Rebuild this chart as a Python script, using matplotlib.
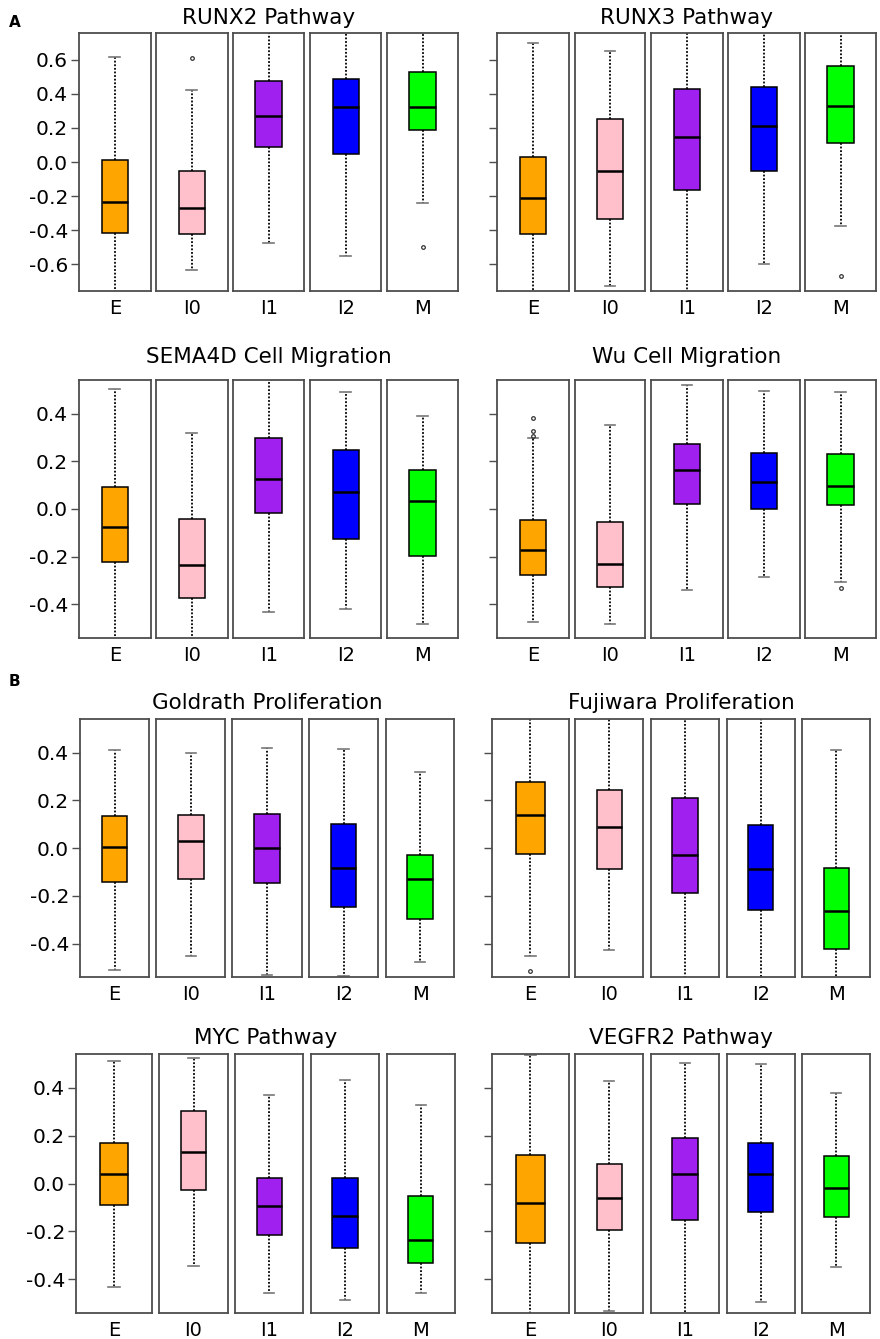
import matplotlib
matplotlib.use("Agg")
import matplotlib.pyplot as plt

plt.rcParams["font.family"] = "DejaVu Sans"

groups = ["E", "I0", "I1", "I2", "M"]
box_colors = ["#FFA500", "#FFC0CB", "#A020F0", "#0000FF", "#00FF00"]

# (lower whisker, Q1, median, Q3, upper whisker) per group
runx2 = [(-0.80, -0.418, -0.236, 0.012, 0.617),
         (-0.631, -0.424, -0.272, -0.053, 0.424),
         (-0.475, 0.088, 0.270, 0.473, 0.80),
         (-0.551, 0.047, 0.324, 0.485, 0.80),
         (-0.240, 0.190, 0.324, 0.528, 0.80)]
runx2_out = [[], [0.608], [], [], [-0.500]]

runx3 = [(-0.80, -0.420, -0.213, 0.029, 0.698),
         (-0.725, -0.332, -0.055, 0.250, 0.651),
         (-0.80, -0.164, 0.145, 0.426, 0.80),
         (-0.596, -0.055, 0.211, 0.440, 0.80),
         (-0.373, 0.113, 0.330, 0.565, 0.80)]
runx3_out = [[], [], [], [], [-0.668]]

sema4d = [(-0.58, -0.222, -0.075, 0.093, 0.502),
          (-0.58, -0.374, -0.234, -0.043, 0.320),
          (-0.434, -0.017, 0.127, 0.296, 0.58),
          (-0.421, -0.124, 0.071, 0.247, 0.493),
          (-0.481, -0.197, 0.032, 0.162, 0.389)]
sema4d_out = [[], [], [], [], []]

wu = [(-0.474, -0.275, -0.174, -0.045, 0.300),
      (-0.481, -0.327, -0.229, -0.053, 0.353),
      (-0.338, 0.022, 0.162, 0.272, 0.519),
      (-0.285, 0.001, 0.113, 0.233, 0.494),
      (-0.306, 0.017, 0.095, 0.229, 0.491)]
wu_out = [[0.381, 0.326, 0.306], [], [], [], [-0.331]]

goldrath = [(-0.510, -0.141, 0.003, 0.133, 0.410),
            (-0.451, -0.128, 0.029, 0.137, 0.399),
            (-0.533, -0.144, 0.001, 0.145, 0.420),
            (-0.536, -0.247, -0.084, 0.103, 0.415),
            (-0.476, -0.295, -0.130, -0.028, 0.318)]
goldrath_out = [[], [], [], [], []]

fujiwara = [(-0.450, -0.024, 0.137, 0.279, 0.58),
            (-0.426, -0.087, 0.088, 0.244, 0.58),
            (-0.58, -0.188, -0.028, 0.211, 0.58),
            (-0.58, -0.258, -0.087, 0.098, 0.58),
            (-0.58, -0.423, -0.262, -0.085, 0.413)]
fujiwara_out = [[-0.514], [], [], [], []]

myc = [(-0.434, -0.089, 0.038, 0.170, 0.512),
       (-0.346, -0.027, 0.131, 0.304, 0.524),
       (-0.458, -0.217, -0.094, 0.024, 0.370),
       (-0.489, -0.272, -0.134, 0.021, 0.433),
       (-0.458, -0.334, -0.236, -0.052, 0.330)]
myc_out = [[], [], [], [], []]

vegfr2 = [(-0.58, -0.251, -0.082, 0.120, 0.536),
          (-0.533, -0.193, -0.061, 0.082, 0.429),
          (-0.58, -0.152, 0.040, 0.191, 0.504),
          (-0.498, -0.120, 0.039, 0.169, 0.501),
          (-0.348, -0.140, -0.020, 0.116, 0.378)]
vegfr2_out = [[], [], [], [], []]

# layout in pixels
W, H = 880, 1339
row_y = [(33, 291), (380.3, 637.7), (719.3, 977), (1054.3, 1312.7)]
row_ylim = [0.756, 0.54, 0.54, 0.541]
row_ticks = [[-0.6, -0.4, -0.2, 0.0, 0.2, 0.4, 0.6],
             [-0.4, -0.2, 0.0, 0.2, 0.4],
             [-0.4, -0.2, 0.0, 0.2, 0.4],
             [-0.4, -0.2, 0.0, 0.2, 0.4]]
title_base = [24, 363, 709, 1044]

top_left = [(79, 150.5), (156, 227.5), (233, 304.3), (310.3, 381.3), (387, 458)]
top_right = [(497, 569), (574.7, 645.3), (651.3, 722.7), (728.3, 799.7), (805, 876.3)]
b3_left = [(80, 149), (156.3, 225.3), (232.3, 302), (309, 378.3), (385.7, 454.3)]
b4_left = [(76, 152.3), (159.3, 227.7), (235, 303.3), (310.7, 379.3), (386.7, 455)]
bot_right = [(492, 568.7), (575, 643.3), (650.7, 719.3), (726.7, 795), (802.3, 870.3)]

panels = [
    ("RUNX2 Pathway", runx2, runx2_out, 0, top_left, True),
    ("RUNX3 Pathway", runx3, runx3_out, 0, top_right, False),
    ("SEMA4D Cell Migration", sema4d, sema4d_out, 1, top_left, True),
    ("Wu Cell Migration", wu, wu_out, 1, top_right, False),
    ("Goldrath Proliferation", goldrath, goldrath_out, 2, b3_left, True),
    ("Fujiwara Proliferation", fujiwara, fujiwara_out, 2, bot_right, False),
    ("MYC Pathway", myc, myc_out, 3, b4_left, True),
    ("VEGFR2 Pathway", vegfr2, vegfr2_out, 3, bot_right, False),
]

fig = plt.figure(figsize=(W / 100, H / 100), dpi=100)
frame_col = "#4d4d4d"

for title, stats, outs, row, xs, left in panels:
    y0, y1 = row_y[row]
    lim = row_ylim[row]
    for i, g in enumerate(groups):
        x0, x1 = xs[i]
        ax = fig.add_axes([x0 / W, 1 - y1 / H, (x1 - x0) / W, (y1 - y0) / H])
        lo, q1, med, q3, hi = stats[i]
        st = [dict(whislo=lo, q1=q1, med=med, q3=q3, whishi=hi, fliers=outs[i])]
        ax.bxp(st, positions=[1], widths=0.37, capwidths=0.15, patch_artist=True,
               manage_ticks=False,
               boxprops=dict(facecolor=box_colors[i], edgecolor="black", linewidth=1.1),
               whiskerprops=dict(color="black", linestyle=(0, (1, 1)), linewidth=1.3),
               capprops=dict(color="#777777", linewidth=1.2),
               medianprops=dict(color="black", linewidth=1.8),
               flierprops=dict(marker="o", markersize=2.6, markerfacecolor="none",
                               markeredgecolor="#333333", markeredgewidth=0.9))
        ax.set_xlim(0.5, 1.5)
        ax.set_ylim(-lim, lim)
        ax.set_xticks([1])
        ax.set_xticklabels([g])
        ax.tick_params(axis="x", length=0, pad=6, labelsize=14)
        for sp in ax.spines.values():
            sp.set_color(frame_col)
            sp.set_linewidth(1.3)
        if i == 0:
            ax.set_yticks(row_ticks[row])
            if left:
                ax.set_yticklabels([f"{t:.1f}" for t in row_ticks[row]])
            else:
                ax.set_yticklabels([])
            ax.tick_params(axis="y", length=6, width=1, color=frame_col, labelsize=14.5, pad=2)
        else:
            ax.set_yticks([])
    cx = (xs[0][0] + xs[-1][1]) / 2
    fig.text(cx / W, 1 - title_base[row] / H, title, ha="center", va="baseline", fontsize=15.5)

fig.text(9 / W, 1 - 27 / H, "A", fontsize=11, fontweight="bold", va="baseline")
fig.text(9 / W, 1 - 686 / H, "B", fontsize=11, fontweight="bold", va="baseline")

fig.savefig("out.png", dpi=100)
